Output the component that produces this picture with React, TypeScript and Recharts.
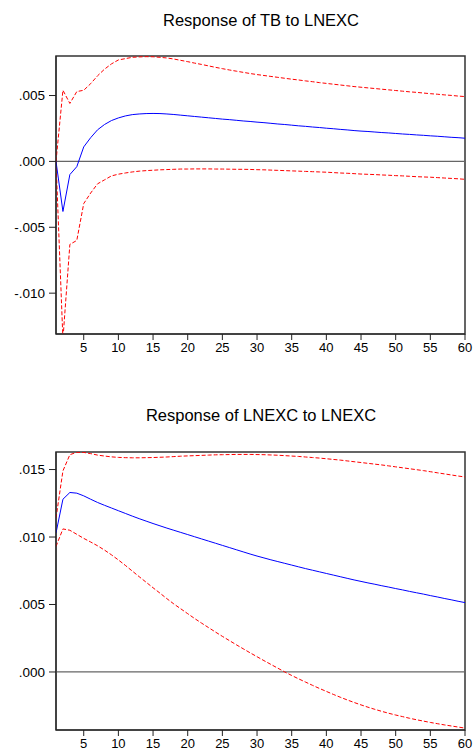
import { LineChart, Line, XAxis, YAxis, ReferenceLine, ReferenceArea } from "recharts";

const periods = Array.from({ length: 60 }, (_, i) => i + 1);
const xTicks = [5, 10, 15, 20, 25, 30, 35, 40, 45, 50, 55, 60];

// Response of TB to LNEXC
const tbResp = [
  0, -0.0038, -0.001, -0.0004, 0.0011, 0.0018, 0.0024, 0.0028, 0.0031, 0.0033,
  0.00345, 0.00355, 0.0036, 0.00363, 0.00364, 0.00363, 0.0036, 0.00356, 0.00351, 0.00346,
  0.00341, 0.00336, 0.00331, 0.00326, 0.00321, 0.00317, 0.00312, 0.00307, 0.00303, 0.00298,
  0.00294, 0.00289, 0.00284, 0.0028, 0.00275, 0.0027, 0.00266, 0.00261, 0.00257, 0.00252,
  0.00248, 0.00243, 0.00239, 0.00234, 0.0023, 0.00227, 0.00223, 0.00219, 0.00216, 0.00212,
  0.00208, 0.00205, 0.00201, 0.00198, 0.00194, 0.00191, 0.00187, 0.00183, 0.0018, 0.00176,
];
const tbUpper = [
  0, 0.0054, 0.0044, 0.0053, 0.0054, 0.0059, 0.0065, 0.007, 0.0074, 0.0077,
  0.0078, 0.0079, 0.00793, 0.00795, 0.00794, 0.0079, 0.00785, 0.00777, 0.00767, 0.00757,
  0.00746, 0.00736, 0.00725, 0.00714, 0.00704, 0.00694, 0.00685, 0.00676, 0.00667, 0.00659,
  0.00652, 0.00645, 0.00638, 0.00631, 0.00624, 0.00618, 0.00611, 0.00605, 0.00598, 0.00592,
  0.00586, 0.0058, 0.00574, 0.00568, 0.00563, 0.00558, 0.00553, 0.00548, 0.00543, 0.00538,
  0.00533, 0.00528, 0.00524, 0.00519, 0.00514, 0.0051, 0.00505, 0.00501, 0.00496, 0.00492,
];
const tbLower = [
  0, -0.0135, -0.0063, -0.006, -0.0032, -0.0024, -0.0017, -0.0014, -0.0011, -0.00097,
  -0.00088, -0.0008, -0.00074, -0.0007, -0.00067, -0.00064, -0.00062, -0.0006, -0.00058, -0.00058,
  -0.00057, -0.00057, -0.00057, -0.00058, -0.00058, -0.00059, -0.0006, -0.0006, -0.00061, -0.00063,
  -0.00064, -0.00066, -0.00068, -0.0007, -0.00072, -0.00074, -0.00076, -0.00078, -0.0008, -0.00082,
  -0.00085, -0.00088, -0.0009, -0.00093, -0.00096, -0.00098, -0.001, -0.00103, -0.00105, -0.00108,
  -0.0011, -0.00113, -0.00116, -0.00118, -0.0012, -0.00123, -0.00126, -0.00129, -0.00132, -0.00136,
];
const tbTicks = [-0.01, -0.005, 0, 0.005];

// Response of LNEXC to LNEXC
const exResp = [
  0.0103, 0.0128, 0.0133, 0.01325, 0.01305, 0.0128, 0.01256, 0.01235, 0.01215, 0.01195,
  0.01175, 0.01155, 0.01136, 0.01118, 0.011, 0.01083, 0.01066, 0.0105, 0.01034, 0.01018,
  0.01002, 0.00986, 0.0097, 0.00954, 0.00938, 0.00922, 0.00906, 0.0089, 0.00874, 0.00859,
  0.00845, 0.00831, 0.00818, 0.00805, 0.00792, 0.00779, 0.00766, 0.00754, 0.00742, 0.0073,
  0.00718, 0.00706, 0.00694, 0.00682, 0.00671, 0.0066, 0.0065, 0.00639, 0.00629, 0.00618,
  0.00608, 0.00597, 0.00587, 0.00577, 0.00566, 0.00556, 0.00545, 0.00535, 0.00524, 0.00514,
];
const exUpper = [
  0.0114, 0.0149, 0.0161, 0.01628, 0.01627, 0.01618, 0.01607, 0.016, 0.01594, 0.0159,
  0.01588, 0.01587, 0.01587, 0.01588, 0.01589, 0.01591, 0.01593, 0.01596, 0.01599, 0.01601,
  0.01603, 0.01605, 0.01607, 0.01609, 0.0161, 0.01611, 0.01612, 0.01612, 0.01612, 0.01611,
  0.0161, 0.01608, 0.01606, 0.01603, 0.016, 0.01597, 0.01593, 0.01589, 0.01585, 0.0158,
  0.01575, 0.0157, 0.01564, 0.01558, 0.01552, 0.01546, 0.0154, 0.01534, 0.01527, 0.0152,
  0.01513, 0.01506, 0.01499, 0.01492, 0.01484, 0.01476, 0.01468, 0.0146, 0.01452, 0.01445,
];
const exLower = [
  0.0093, 0.0106, 0.0105, 0.0102, 0.0099, 0.00963, 0.00935, 0.00903, 0.00868, 0.0083,
  0.0079, 0.00748, 0.00706, 0.00665, 0.00624, 0.00584, 0.00543, 0.00504, 0.00468, 0.00432,
  0.00396, 0.00362, 0.00329, 0.00296, 0.00264, 0.00233, 0.00202, 0.00172, 0.00142, 0.00113,
  0.00084, 0.00056, 0.00028, 0, -0.00026, -0.00051, -0.00075, -0.00099, -0.00122, -0.00144,
  -0.00166, -0.00187, -0.00207, -0.00226, -0.00244, -0.00261, -0.00277, -0.00292, -0.00306, -0.00319,
  -0.00331, -0.00343, -0.00354, -0.00364, -0.00374, -0.00383, -0.00392, -0.004, -0.00408, -0.00416,
];
const exTicks = [0, 0.005, 0.01, 0.015];

const FONT = "'Liberation Sans', Arial, sans-serif";

const fmt = (v: number) => v.toFixed(3).replace("0.", ".");

const build = (resp: number[], up: number[], lo: number[]) =>
  periods.map((p, i) => ({ p, resp: resp[i], up: up[i], lo: lo[i] }));

interface PanelProps {
  title: string;
  top: number;
  titleTop: number;
  data: { p: number; resp: number; up: number; lo: number }[];
  domain: [number, number];
  ticks: number[];
}

const Panel = ({ title, top, titleTop, data, domain, ticks }: PanelProps) => (
  <>
    <div
      style={{
        position: "absolute",
        left: 0,
        top: titleTop,
        width: 522,
        textAlign: "center",
        fontFamily: FONT,
        fontSize: 16.5,
        lineHeight: "20px",
        color: "#000",
      }}
    >
      {title}
    </div>
    <div style={{ position: "absolute", left: 0, top }}>
      <LineChart width={475} height={364} data={data} margin={{ top: 56, right: 10, left: 6, bottom: 0 }}>
        <XAxis
          dataKey="p"
          type="number"
          domain={[1, 60]}
          ticks={xTicks}
          allowDataOverflow
          height={30}
          tickSize={6}
          tickMargin={3}
          axisLine={{ stroke: "#222" }}
          tickLine={{ stroke: "#222" }}
          tick={{ fill: "#000", fontSize: 13, fontFamily: FONT }}
        />
        <YAxis
          type="number"
          domain={domain}
          ticks={ticks}
          allowDataOverflow
          width={50}
          tickSize={7}
          tickMargin={4}
          tickFormatter={fmt}
          axisLine={{ stroke: "#222" }}
          tickLine={{ stroke: "#222" }}
          tick={{ fill: "#000", fontSize: 13.5, fontFamily: FONT }}
        />
        <ReferenceLine y={0} stroke="#666" strokeWidth={1.3} />
        <Line dataKey="up" stroke="#ff0000" strokeWidth={1} strokeDasharray="4 2" dot={false} isAnimationActive={false} />
        <Line dataKey="lo" stroke="#ff0000" strokeWidth={1} strokeDasharray="4 2" dot={false} isAnimationActive={false} />
        <Line dataKey="resp" stroke="#0000ff" strokeWidth={1} dot={false} isAnimationActive={false} />
        <ReferenceArea x1={1} x2={60} y1={domain[0]} y2={domain[1]} fill="none" stroke="#333" strokeWidth={1.5} ifOverflow="visible" />
      </LineChart>
    </div>
  </>
);

export default function App() {
  return (
    <div style={{ position: "absolute", left: 0, top: 0, width: 475, height: 755, background: "#fff", overflow: "hidden" }}>
      <Panel
        title="Response of TB to LNEXC"
        top={0}
        titleTop={10}
        data={build(tbResp, tbUpper, tbLower)}
        domain={[-0.0131, 0.008]}
        ticks={tbTicks}
      />
      <Panel
        title="Response of LNEXC to LNEXC"
        top={396}
        titleTop={405}
        data={build(exResp, exUpper, exLower)}
        domain={[-0.0043, 0.0163]}
        ticks={exTicks}
      />
    </div>
  );
}
